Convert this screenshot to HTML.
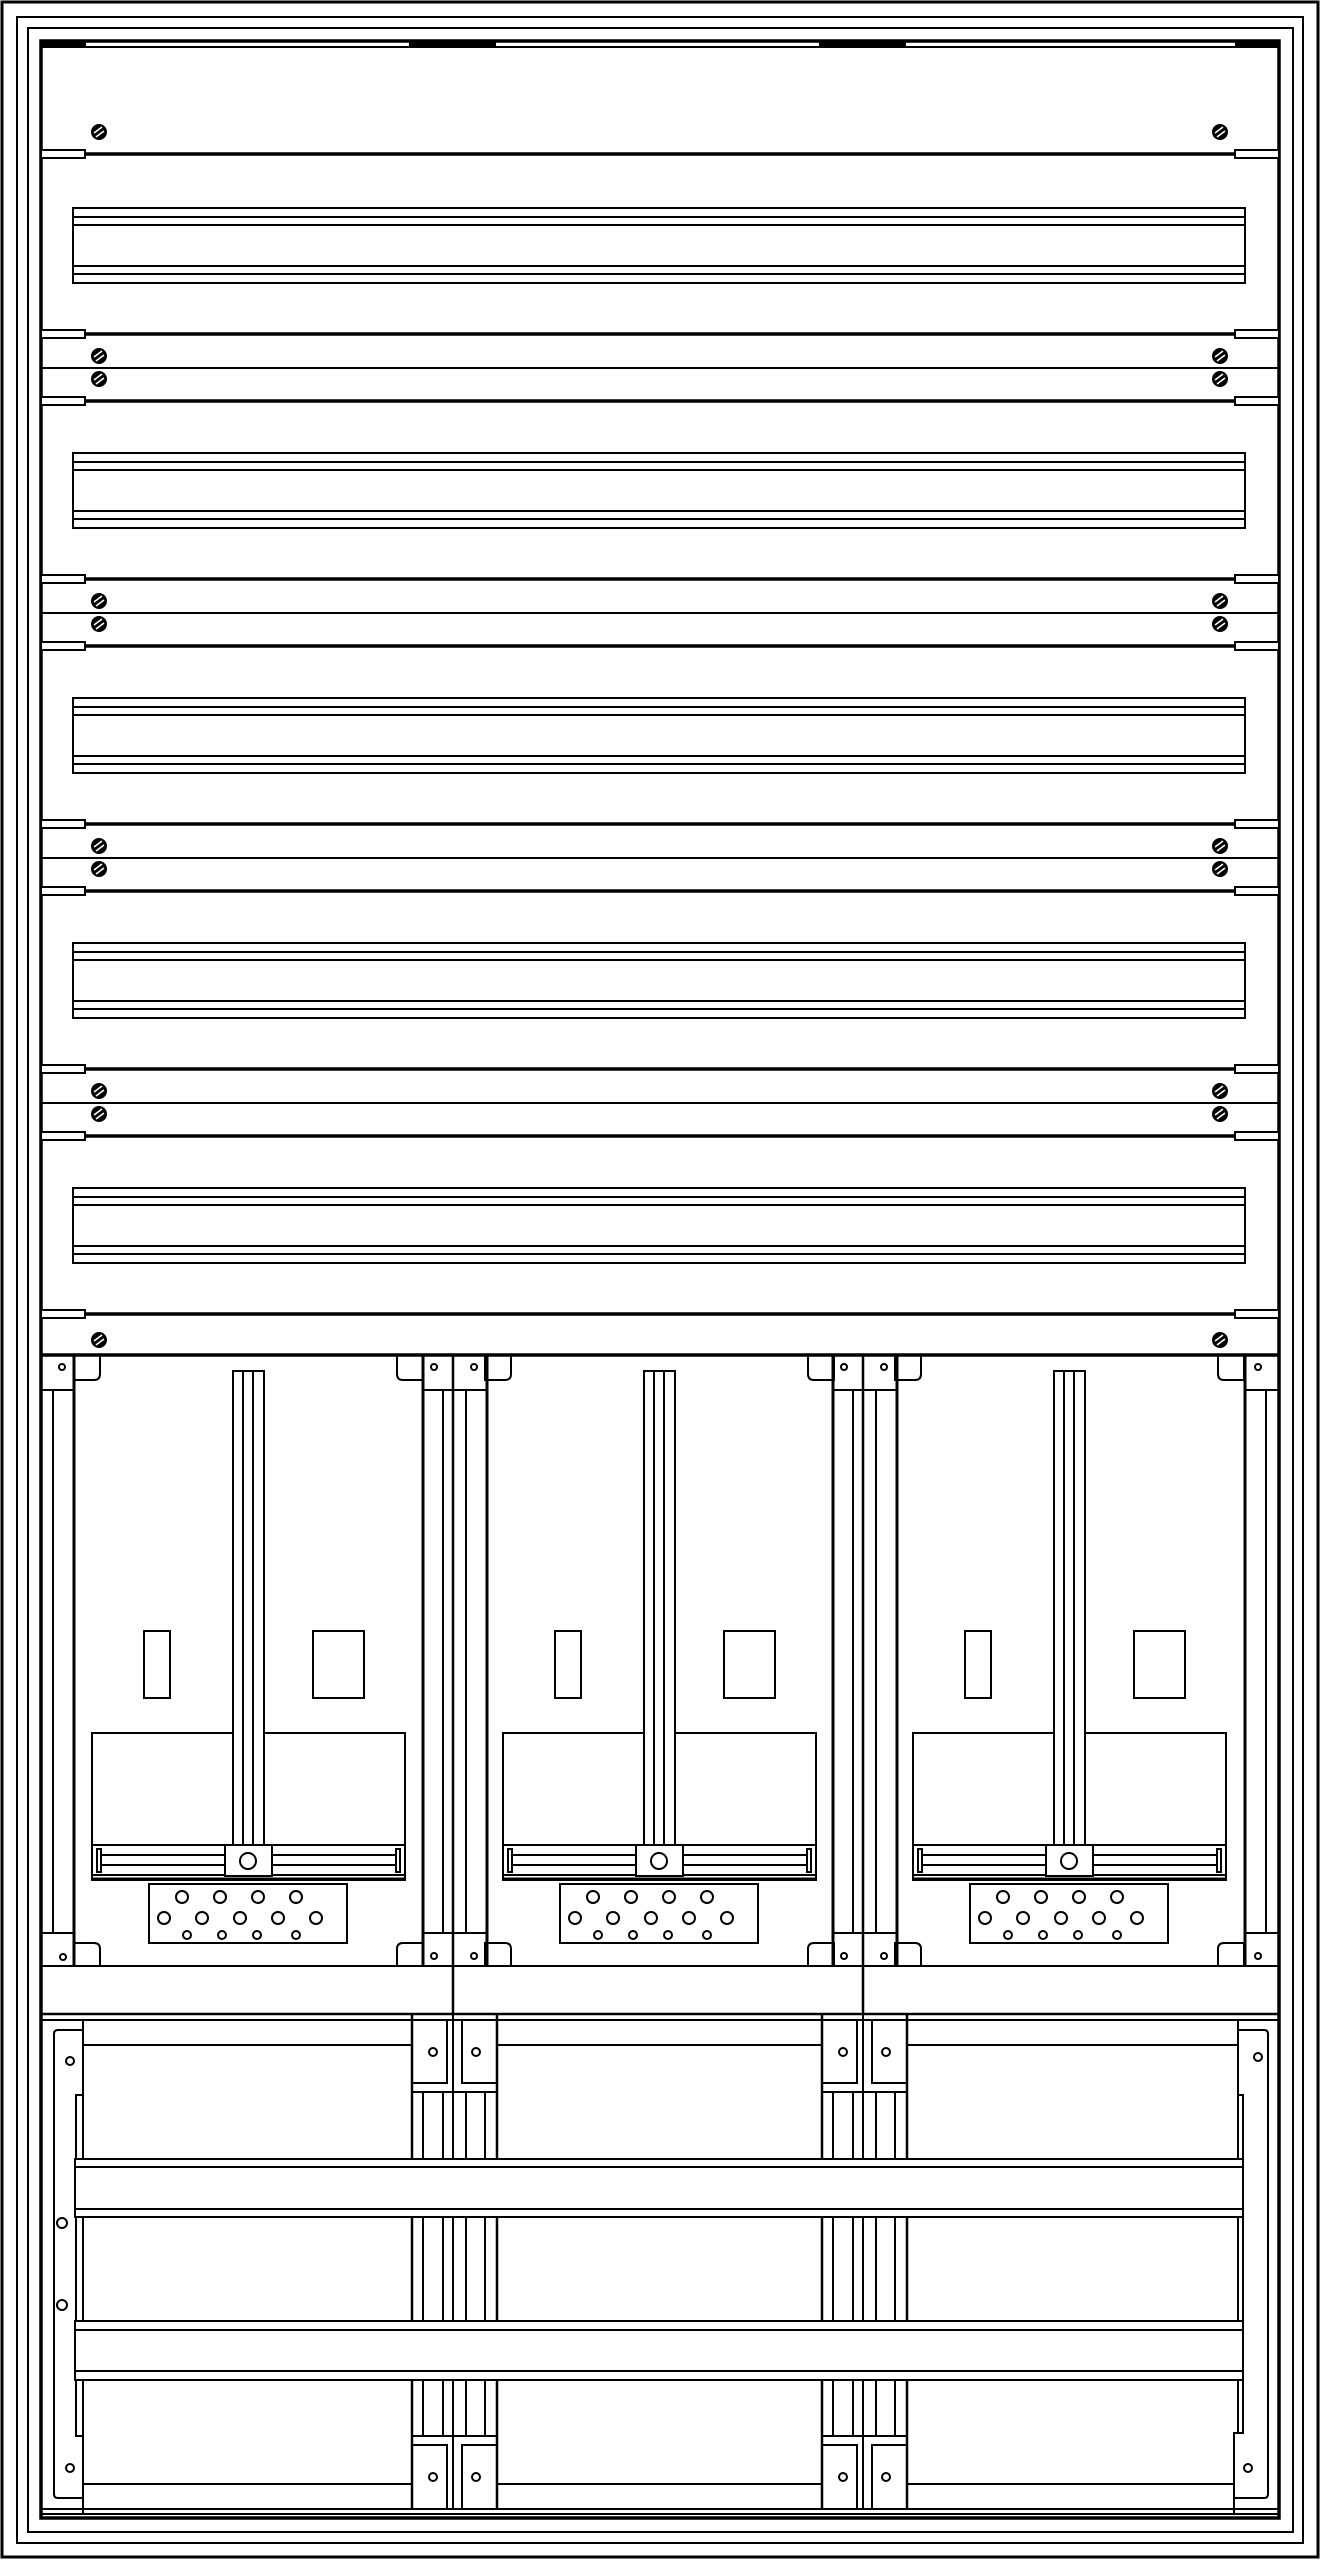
<!DOCTYPE html>
<html><head><meta charset="utf-8"><style>html,body{margin:0;padding:0;background:#fff}svg{display:block}</style></head>
<body>
<svg width="1321" height="2560" viewBox="0 0 1321 2560" xmlns="http://www.w3.org/2000/svg" fill="none" stroke="#000" stroke-width="2">
<defs>
<g id="screw"><circle r="8" fill="#000" stroke="none"/><line x1="-5" y1="1" x2="3" y2="-5" stroke="#fff" stroke-width="1.6"/><line x1="-3" y1="5" x2="5" y2="-1" stroke="#fff" stroke-width="1.6"/></g>
<g id="rail"><rect x="73" y="0" width="1172" height="75" fill="#fff"/><line x1="73" y1="9" x2="1245" y2="9"/><line x1="73" y1="17" x2="1245" y2="17"/><line x1="73" y1="58" x2="1245" y2="58"/><line x1="73" y1="66" x2="1245" y2="66"/></g>
<g id="div"><rect x="41" y="-4" width="44" height="8" fill="#fff"/><rect x="1235" y="-4" width="44" height="8" fill="#fff"/><line x1="85" y1="0" x2="1235" y2="0" stroke-width="3.5"/></g>
<g id="col">
<path d="M74,1355 V1380 H94 Q100,1380 100,1374 V1355"/>
<path d="M423,1355 V1380 H403 Q397,1380 397,1374 V1355"/>
<path d="M74,1966 V1943 H94 Q100,1943 100,1949 V1966"/>
<path d="M423,1966 V1943 H403 Q397,1943 397,1949 V1966"/>
<rect x="233" y="1371" width="31" height="474"/>
<line x1="243" y1="1371" x2="243" y2="1845"/><line x1="253" y1="1371" x2="253" y2="1845"/>
<rect x="144" y="1631" width="26" height="67"/>
<rect x="313" y="1631" width="51" height="67"/>
<path d="M233,1733 H92 V1880 H405 V1733 H264"/>
<line x1="92" y1="1879" x2="405" y2="1879" stroke-width="3"/>
<line x1="92" y1="1845" x2="225" y2="1845"/><line x1="272" y1="1845" x2="405" y2="1845"/>
<line x1="101" y1="1855" x2="225" y2="1855"/><line x1="272" y1="1855" x2="396" y2="1855"/>
<line x1="101" y1="1865" x2="225" y2="1865"/><line x1="272" y1="1865" x2="396" y2="1865"/>
<line x1="92" y1="1875" x2="225" y2="1875"/><line x1="272" y1="1875" x2="405" y2="1875"/>
<path d="M97,1849 H101 V1872 H97 Z"/><path d="M400,1849 H396 V1872 H400 Z"/>
<rect x="225" y="1845" width="47" height="31" fill="#fff"/>
<circle cx="248" cy="1861" r="8"/>
<rect x="149" y="1884" width="198" height="59"/>
<circle cx="182" cy="1897" r="6"/><circle cx="220" cy="1897" r="6"/><circle cx="258" cy="1897" r="6"/><circle cx="296" cy="1897" r="6"/>
<circle cx="164" cy="1918" r="6"/><circle cx="202" cy="1918" r="6"/><circle cx="240" cy="1918" r="6"/><circle cx="278" cy="1918" r="6"/><circle cx="316" cy="1918" r="6"/>
<circle cx="187" cy="1935" r="4"/><circle cx="222" cy="1935" r="4"/><circle cx="257" cy="1935" r="4"/><circle cx="296" cy="1935" r="4"/>
</g>
<g id="mid">
<line x1="423" y1="1355" x2="423" y2="1966" stroke-width="3"/>
<line x1="487" y1="1355" x2="487" y2="1966" stroke-width="3"/>
<line x1="443" y1="1390" x2="443" y2="1933"/>
<line x1="453" y1="1355" x2="453" y2="2014" stroke-width="2.5"/>
<line x1="466" y1="1390" x2="466" y2="1933"/>
<line x1="423" y1="1390" x2="487" y2="1390"/>
<line x1="423" y1="1933" x2="487" y2="1933"/>
<circle cx="434" cy="1367" r="3"/><circle cx="474" cy="1367" r="3"/>
<circle cx="434" cy="1956" r="3"/><circle cx="474" cy="1956" r="3"/>
<!-- lower blocks -->
<line x1="412" y1="2014" x2="412" y2="2509" stroke-width="2.5"/>
<line x1="497" y1="2014" x2="497" y2="2509" stroke-width="2.5"/>
<line x1="453" y1="2014" x2="453" y2="2509"/>
<path d="M412,2083 H447 V2020"/><path d="M497,2083 H462 V2020"/>
<line x1="412" y1="2092" x2="497" y2="2092"/>
<line x1="423" y1="2092" x2="423" y2="2436"/><line x1="443" y1="2092" x2="443" y2="2436"/>
<line x1="466" y1="2092" x2="466" y2="2436"/><line x1="485" y1="2092" x2="485" y2="2436"/>
<line x1="412" y1="2436" x2="497" y2="2436"/>
<path d="M412,2445 H447 V2509"/><path d="M497,2445 H462 V2509"/>
<circle cx="433" cy="2052" r="4"/><circle cx="476" cy="2052" r="4"/>
<circle cx="433" cy="2477" r="4"/><circle cx="476" cy="2477" r="4"/>
</g>
</defs>
<!-- frames -->
<rect x="2" y="2" width="1316" height="2555" stroke-width="3"/>
<rect x="17" y="17" width="1286" height="2526"/>
<rect x="28" y="28" width="1265" height="2504"/>
<rect x="41" y="41" width="1238" height="2477" stroke-width="3.5"/>
<line x1="41" y1="47" x2="1279" y2="47"/>
<rect x="41" y="41" width="44" height="6" fill="#000"/><rect x="410" y="41" width="85" height="6" fill="#000"/>
<rect x="820" y="41" width="85" height="6" fill="#000"/><rect x="1236" y="41" width="43" height="6" fill="#000"/>
<!-- rails & dividers -->
<use href="#div" y="154"/>
<use href="#rail" y="208"/><use href="#rail" y="453"/><use href="#rail" y="698"/><use href="#rail" y="943"/><use href="#rail" y="1188"/>
<use href="#div" y="334"/><use href="#div" y="401"/><line x1="41" y1="368" x2="1279" y2="368"/>
<use href="#div" y="579"/><use href="#div" y="646"/><line x1="41" y1="613" x2="1279" y2="613"/>
<use href="#div" y="824"/><use href="#div" y="891"/><line x1="41" y1="858" x2="1279" y2="858"/>
<use href="#div" y="1069"/><use href="#div" y="1136"/><line x1="41" y1="1103" x2="1279" y2="1103"/>
<use href="#div" y="1314"/>
<use href="#screw" x="99" y="132"/><use href="#screw" x="1220" y="132"/>
<use href="#screw" x="99" y="356"/><use href="#screw" x="1220" y="356"/><use href="#screw" x="99" y="379"/><use href="#screw" x="1220" y="379"/>
<use href="#screw" x="99" y="601"/><use href="#screw" x="1220" y="601"/><use href="#screw" x="99" y="624"/><use href="#screw" x="1220" y="624"/>
<use href="#screw" x="99" y="846"/><use href="#screw" x="1220" y="846"/><use href="#screw" x="99" y="869"/><use href="#screw" x="1220" y="869"/>
<use href="#screw" x="99" y="1091"/><use href="#screw" x="1220" y="1091"/><use href="#screw" x="99" y="1114"/><use href="#screw" x="1220" y="1114"/>
<use href="#screw" x="99" y="1340"/><use href="#screw" x="1220" y="1340"/>
<!-- meter section -->
<line x1="41" y1="1355" x2="1279" y2="1355" stroke-width="3.5"/>
<use href="#col"/><use href="#col" x="411"/><use href="#col" x="821"/>
<use href="#mid"/><use href="#mid" x="410"/>
<!-- left edge -->
<line x1="74" y1="1355" x2="74" y2="1966" stroke-width="3"/>
<line x1="53" y1="1390" x2="53" y2="1933"/>
<line x1="41" y1="1390" x2="74" y2="1390"/><line x1="41" y1="1933" x2="74" y2="1933"/>
<circle cx="62" cy="1367" r="3"/><circle cx="63" cy="1957" r="3"/>
<!-- right edge -->
<line x1="1245" y1="1355" x2="1245" y2="1966" stroke-width="3"/>
<line x1="1266" y1="1390" x2="1266" y2="1933"/>
<line x1="1245" y1="1390" x2="1279" y2="1390"/><line x1="1245" y1="1933" x2="1279" y2="1933"/>
<circle cx="1258" cy="1367" r="3"/><circle cx="1258" cy="1956" r="3"/>
<!-- bar -->
<line x1="41" y1="1966" x2="1279" y2="1966"/>
<line x1="41" y1="2014" x2="1279" y2="2014" stroke-width="2.5"/>
<line x1="41" y1="2020" x2="1279" y2="2020"/>
<!-- lower section -->
<line x1="83" y1="2045" x2="412" y2="2045"/><line x1="497" y1="2045" x2="823" y2="2045"/><line x1="907" y1="2045" x2="1238" y2="2045"/>
<line x1="83" y1="2484" x2="412" y2="2484"/><line x1="497" y1="2484" x2="823" y2="2484"/><line x1="907" y1="2484" x2="1234" y2="2484"/>
<line x1="41" y1="2509" x2="1279" y2="2509"/><line x1="41" y1="2514" x2="1279" y2="2514"/>
<path d="M83,2030 H58 Q54,2030 54,2034 V2494 Q54,2498 58,2498 H83"/>
<line x1="83" y1="2020" x2="83" y2="2514"/>
<path d="M83,2095 H76 V2436 H83"/>
<circle cx="70" cy="2061" r="4"/><circle cx="62" cy="2223" r="5"/><circle cx="62" cy="2305" r="5"/><circle cx="70" cy="2468" r="4"/>
<path d="M1238,2030 H1264 Q1268,2030 1268,2034 V2494 Q1268,2498 1264,2498 H1234"/>
<line x1="1238" y1="2020" x2="1238" y2="2433"/>
<path d="M1238,2095 H1243 V2433 H1234 V2514"/>
<circle cx="1258" cy="2057" r="4"/><circle cx="1248" cy="2468" r="4"/>
<g fill="#fff">
<rect x="75" y="2159" width="1168" height="58"/>
<rect x="75" y="2321" width="1168" height="59"/>
</g>
<line x1="75" y1="2167" x2="1243" y2="2167"/><line x1="75" y1="2209" x2="1243" y2="2209"/>
<line x1="75" y1="2330" x2="1243" y2="2330"/><line x1="75" y1="2371" x2="1243" y2="2371"/>
</svg>
</body></html>
